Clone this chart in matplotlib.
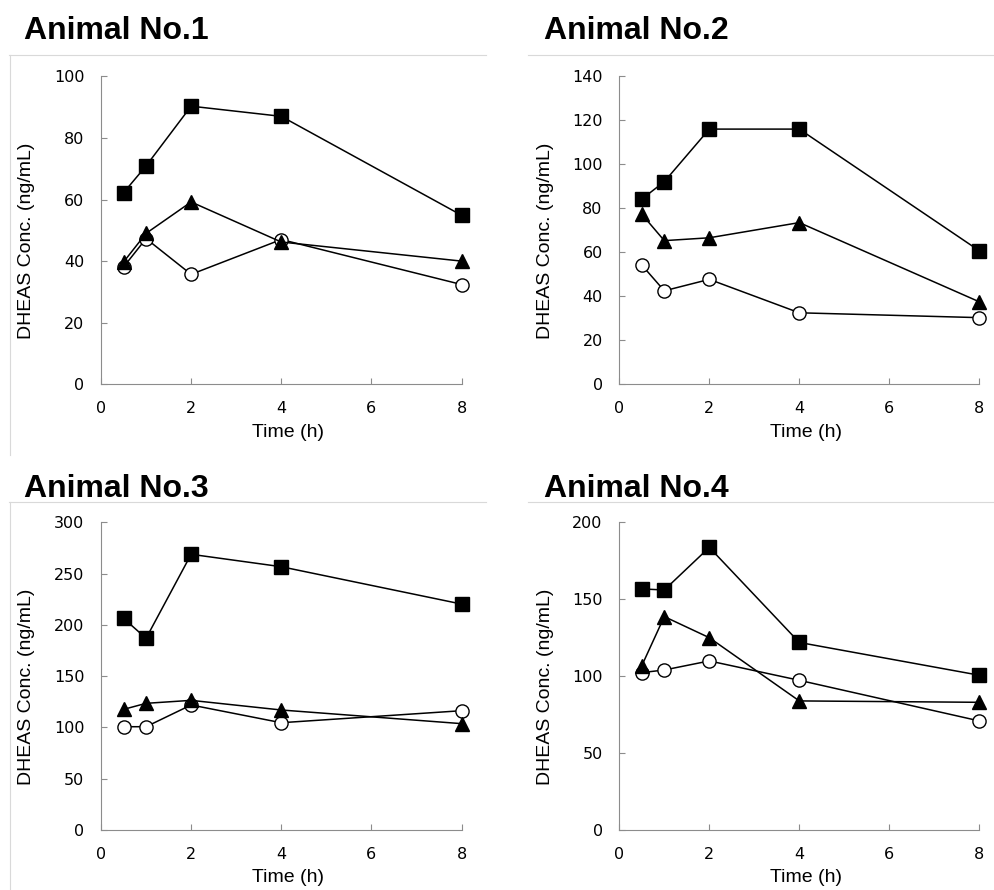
import matplotlib
matplotlib.use('Agg')
import matplotlib.pyplot as plt
from matplotlib.lines import Line2D

W, H = 995, 890

time_h = [0.5, 1, 2, 4, 8]
titles = ['Animal No.1', 'Animal No.2', 'Animal No.3', 'Animal No.4']

# open circles, filled triangles, filled squares
circle = [
    [38.1, 47.3, 35.7, 47.0, 32.4],
    [54.2, 42.5, 47.7, 32.5, 30.3],
    [100.7, 100.7, 121.9, 104.6, 116.3],
    [102.3, 104.0, 109.9, 97.3, 70.9],
]
triangle = [
    [39.7, 49.0, 59.2, 46.2, 40.0],
    [77.3, 65.3, 66.6, 73.5, 37.5],
    [117.6, 123.5, 126.4, 117.0, 103.7],
    [106.8, 138.7, 125.0, 83.9, 83.0],
]
square = [
    [62.2, 70.9, 90.3, 87.0, 54.9],
    [84.2, 92.1, 116.0, 116.0, 60.7],
    [206.4, 186.9, 268.8, 256.7, 220.3],
    [156.7, 156.0, 183.7, 121.9, 100.6],
]
y_max = [100, 140, 300, 200]
y_step = [20, 20, 50, 50]
x_ticks = [0, 2, 4, 6, 8]

fig = plt.figure(figsize=(W / 100, H / 100), dpi=100)

# pixel boxes: left, top, right, bottom
boxes = [
    (101, 76.3, 461.5, 384.3),
    (619.3, 76.3, 979.3, 384.3),
    (101, 522.3, 461.5, 830),
    (619.3, 522.3, 979.3, 830),
]
title_pos = [(24, 39.3), (544, 39.3), (24, 496.7), (544, 496.7)]
frame_top = [(9, 486, 54.5), (528, 995, 54.5), (9, 486, 501.5), (528, 995, 501.5)]
frame_left = [(9.5, 54.5, 455), None, (9.5, 501.5, 890), None]

axis_gray = '#8c8c8c'
frame_gray = '#d9d9d9'


def fx(px):
    return px / W


def fy(py):
    return 1 - py / H


for i in range(4):
    l, t, r, b = boxes[i]
    ax = fig.add_axes([fx(l), fy(b), (r - l) / W, (b - t) / H])

    ax.plot(time_h, circle[i], color='k', lw=1.1, marker='o', ms=9.5,
            mfc='white', mec='k', mew=1.0, clip_on=False)
    ax.plot(time_h, triangle[i], color='k', lw=1.1, marker='^', ms=10,
            mfc='k', mec='k', clip_on=False)
    ax.plot(time_h, square[i], color='k', lw=1.1, marker='s', ms=10,
            mfc='k', mec='k', clip_on=False)

    ax.set_xlim(0, 8)
    ax.set_ylim(0, y_max[i])
    ax.set_xticks(x_ticks)
    ax.set_yticks(range(0, y_max[i] + 1, y_step[i]))
    for s in ['top', 'right']:
        ax.spines[s].set_visible(False)
    for s in ['left', 'bottom']:
        ax.spines[s].set_color(axis_gray)
        ax.spines[s].set_linewidth(0.8)
    ax.tick_params(direction='in', length=4, width=0.8, color=axis_gray,
                   labelsize=11.5, pad=12, labelcolor='k')
    for lab in ax.get_xticklabels() + ax.get_yticklabels():
        lab.set_family('DejaVu Sans')

    # labels
    fig.text(fx(l - 74), fy((t + b) / 2 + 11), 'DHEAS Conc. (ng/mL)', rotation=90,
             ha='center', va='center', fontsize=14, family='Liberation Sans')
    fig.text(fx((l + r) / 2 + 7), fy(b + 48), 'Time (h)', ha='center',
             va='center', fontsize=14, family='Liberation Sans')

    tx, ty = title_pos[i]
    fig.text(fx(tx), fy(ty), titles[i], ha='left', va='baseline',
             fontsize=23, fontweight='bold', family='Liberation Sans')

    x0, x1, yy = frame_top[i]
    fig.add_artist(Line2D([fx(x0), fx(x1)], [fy(yy), fy(yy)],
                          color=frame_gray, lw=0.8, transform=fig.transFigure))
    if frame_left[i] is not None:
        xx, y0, y1 = frame_left[i]
        fig.add_artist(Line2D([fx(xx), fx(xx)], [fy(y0), fy(y1)],
                              color=frame_gray, lw=0.8, transform=fig.transFigure))

fig.savefig('out.png', dpi=100)
